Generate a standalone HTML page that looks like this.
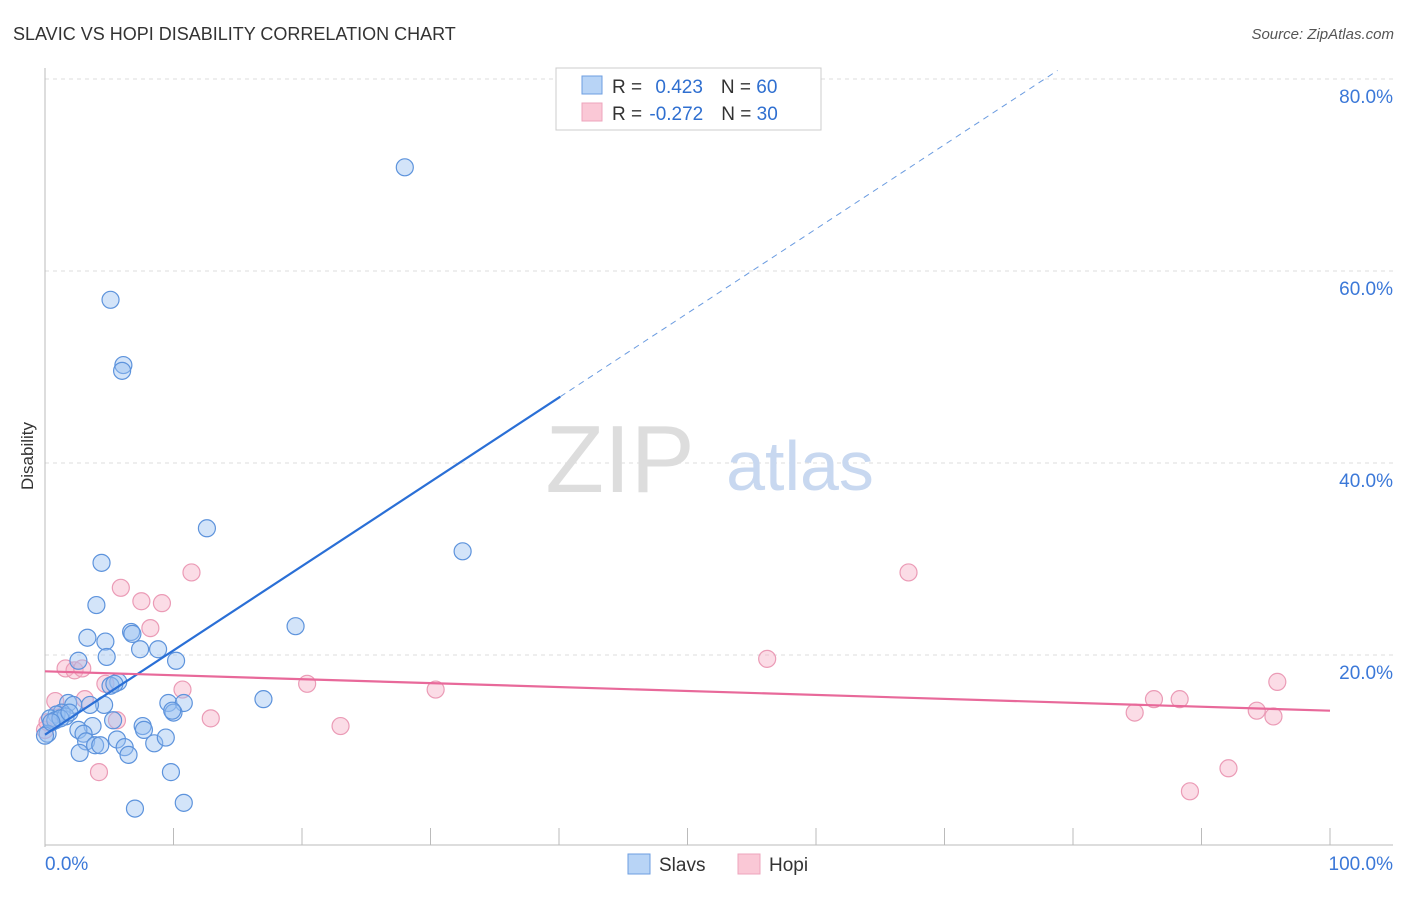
<!DOCTYPE html>
<html><head><meta charset="utf-8"><style>
body{margin:0;background:#fff;font-family:"Liberation Sans",sans-serif;}
svg text{font-family:"Liberation Sans",sans-serif;}
</style></head><body>
<svg width="1406" height="892" viewBox="0 0 1406 892">
<text x="13" y="40" font-size="18" fill="#333">SLAVIC VS HOPI DISABILITY CORRELATION CHART</text>
<text x="1394" y="39" font-size="15" fill="#555" font-style="italic" text-anchor="end">Source: ZipAtlas.com</text>
<g id="grid"></g>
<g id="axes"></g>
<text x="620" y="492" font-size="96" fill="#ddd" font-family="Liberation Serif" text-anchor="middle">ZIP</text>
<text x="800" y="490" font-size="70" fill="#c8d8f0" text-anchor="middle">atlas</text>
<g id="pts"></g>
<g id="lines"></g>
<text x="33" y="456" font-size="17" fill="#333" text-anchor="middle" transform="rotate(-90 33 456)">Disability</text>
<g>
<rect x="556" y="68" width="265" height="62" fill="#fff" stroke="#ccc"/>
<rect x="582" y="76" width="20" height="18" fill="#b8d4f6" stroke="#6d9ee0"/>
<rect x="582" y="103" width="20" height="18" fill="#fac8d6" stroke="#eea4bc"/>
<text x="612" y="93" font-size="19" fill="#333">R = <tspan fill="#2f6fd0" dx="8">0.423</tspan><tspan fill="#333" dx="18">N = </tspan><tspan fill="#2f6fd0">60</tspan></text>
<text x="612" y="120" font-size="19" fill="#333">R = <tspan fill="#2f6fd0" dx="2">-0.272</tspan><tspan fill="#333" dx="18">N = </tspan><tspan fill="#2f6fd0">30</tspan></text>
</g>
<g>
<rect x="628" y="854" width="22" height="20" fill="#b8d4f6" stroke="#6d9ee0"/>
<text x="659" y="871" font-size="19" fill="#333">Slavs</text>
<rect x="738" y="854" width="22" height="20" fill="#fac8d6" stroke="#eea4bc"/>
<text x="769" y="871" font-size="19" fill="#333">Hopi</text>
</g>
</svg>
<script>
const slavX=[28.0,5.1,6.1,6.0,12.6,32.5,4.4,4.0,6.7,19.5,3.3,4.7,7.4,8.8,4.8,10.2,2.6,5.7,5.1,17.0,9.6,10.8,10.0,4.6,1.8,2.2,3.5,1.3,0.9,0.4,0.8,5.3,7.6,3.7,2.6,3.0,3.2,3.9,5.6,6.2,6.5,8.5,9.4,2.7,9.8,7.0,10.8,0.2,1.6,1.2,1.9,0.0,4.3,6.8,5.4,9.9,0.5,7.7];
const slavY=[70.8,57.0,50.2,49.6,33.2,30.8,29.6,25.2,22.4,23.0,21.8,21.4,20.6,20.6,19.8,19.4,19.4,17.2,16.8,15.4,15.0,15.0,14.0,14.8,15.0,14.8,14.8,14.0,13.8,13.4,13.2,13.2,12.6,12.6,12.2,11.8,11.0,10.6,11.2,10.4,9.6,10.8,11.4,9.8,7.8,4.0,4.6,11.8,13.6,13.4,14.0,11.6,10.6,22.2,17.0,14.2,13.0,12.2];
const hopiX=[11.4,5.9,7.5,9.1,8.2,67.2,56.2,1.6,2.3,2.9,20.4,10.7,30.4,4.7,3.1,0.8,5.6,12.9,23.0,4.2,84.8,86.3,88.3,95.9,94.3,95.6,92.1,89.1,0.0,0.2];
const hopiY=[28.6,27.0,25.6,25.4,22.8,28.6,19.6,18.6,18.4,18.6,17.0,16.4,16.4,17.0,15.4,15.2,13.2,13.4,12.6,7.8,14.0,15.4,15.4,17.2,14.2,13.6,8.2,5.8,12.2,13.0];
const yTicks=[20,40,60,80];
const slavTrend=[11.7,0.878];
const hopiTrend=[18.3,-0.041];
const X0=45,X1=1330,Y0=847,PY=9.6;
const sx=v=>X0+v*(X1-X0)/100, sy=v=>Y0-v*PY;
const NS='http://www.w3.org/2000/svg';
function mk(tag,attrs,parent){const e=document.createElementNS(NS,tag);for(const k in attrs)e.setAttribute(k,attrs[k]);parent.appendChild(e);return e;}
const grid=document.getElementById('grid'),axes=document.getElementById('axes'),pts=document.getElementById('pts'),lines=document.getElementById('lines');
yTicks.forEach(t=>{
 const l=mk('line',{x1:X0,x2:1393,y1:sy(t),y2:sy(t),stroke:'#ddd','stroke-dasharray':'4,4'},grid);
 
 
 const tx=mk('text',{x:1393,y:sy(t)+24,'font-size':19,fill:'#3b78d8','text-anchor':'end'},grid);
 tx.textContent=t.toFixed(1)+'%';
 
 
});
mk('line',{x1:X0,x2:X0,y1:68,y2:847,stroke:'#bbb'},axes);
mk('line',{x1:X0,x2:1393,y1:845,y2:845,stroke:'#bbb'},axes);
for(let i=1;i<=10;i++){const t=mk('line',{x1:sx(i*10),x2:sx(i*10),y1:828,y2:845,stroke:'#bbb'},axes);
 
 }
const xl=mk('text',{x:45,y:870,'font-size':19,fill:'#3b78d8'},axes);xl.textContent='0.0%';


const xr=mk('text',{x:1393,y:870,'font-size':19,fill:'#3b78d8','text-anchor':'end'},axes);xr.textContent='100.0%';


hopiX.forEach((x,i)=>{const c=mk('circle',{cx:sx(x),cy:sy(hopiY[i]),r:8.5,fill:'rgba(246,178,200,0.45)',stroke:'#eb9bb6','stroke-width':1.2},pts);
 
 });
slavX.forEach((x,i)=>{const c=mk('circle',{cx:sx(x),cy:sy(slavY[i]),r:8.5,fill:'rgba(150,190,240,0.42)',stroke:'#5d93dc','stroke-width':1.2},pts);
 
 });
const sl=mk('line',{x1:sx(0),y1:sy(slavTrend[0]),x2:sx(40.1),y2:sy(slavTrend[0]+slavTrend[1]*40.1),stroke:'#2a6fd6','stroke-width':2.2},lines);


const sd=mk('line',{x1:sx(40.1),y1:sy(slavTrend[0]+slavTrend[1]*40.1),x2:sx(78.8),y2:sy(slavTrend[0]+slavTrend[1]*78.8),stroke:'#6a9be0','stroke-width':1,'stroke-dasharray':'6,5'},lines);


const hl=mk('line',{x1:sx(0),y1:sy(hopiTrend[0]),x2:sx(100),y2:sy(hopiTrend[0]+hopiTrend[1]*100),stroke:'#e8699a','stroke-width':2.2},lines);


</script>
</body></html>
